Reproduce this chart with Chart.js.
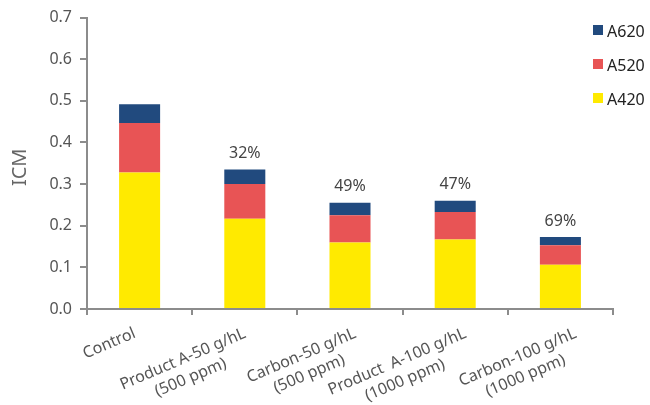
<!DOCTYPE html>
<html>
<head>
<meta charset="utf-8">
<script src="https://cdn.jsdelivr.net/npm/chart.js@4"></script>
<style>
  html, body { margin: 0; padding: 0; background: #fff; }
  #wrap { position: relative; width: 650px; height: 405px; }
  #legend { position: absolute; left: 593px; top: 20px; font-family: "Noto Sans", "Open Sans", sans-serif; font-size: 16px; color: #222; }
  #legend div { height: 34px; display: flex; align-items: flex-start; }
  #legend span.box { display: inline-block; width: 10px; height: 10px; margin-top: 5px; margin-right: 4px; }
</style>
</head>
<body>
<div id="wrap">
  <canvas id="chart" width="650" height="405"></canvas>
  <div id="legend"></div>
</div>
<script>
// Data
const categories = [
    'Control',
    ['Product A-50 g/hL', '(500 ppm)'],
    ['Carbon-50 g/hL', '(500 ppm)'],
    ['Product  A-100 g/hL', '(1000 ppm)'],
    ['Carbon-100 g/hL', '(1000 ppm)']
];
const a420 = [0.328, 0.217, 0.160, 0.167, 0.106];
const a520 = [0.119, 0.083, 0.065, 0.066, 0.047];
const a620 = [0.045, 0.035, 0.030, 0.027, 0.020];
const reduction = ['', '32%', '49%', '47%', '69%'];
const yTicks = [0, 0.1, 0.2, 0.3, 0.4, 0.5, 0.6, 0.7];
const yTitle = 'ICM';

const font = '"Noto Sans", "Open Sans", sans-serif';
const axisGray = '#8c8c8c';
Chart.defaults.font.family = font;

// percent labels above the stacks
const reductionLabels = {
    id: 'reductionLabels',
    afterDatasetsDraw(chart) {
        const ctx = chart.ctx;
        const top = chart.getDatasetMeta(chart.data.datasets.length - 1);
        ctx.save();
        ctx.font = '16px ' + font;
        ctx.fillStyle = '#444';
        ctx.textAlign = 'center';
        ctx.textBaseline = 'middle';
        top.data.forEach((bar, i) => {
            if (reduction[i]) ctx.fillText(reduction[i], bar.x, bar.y - 16);
        });
        ctx.restore();
    }
};

// rotated category labels, lines centred on each other, plus the y title
const axisText = {
    id: 'axisText',
    afterDraw(chart) {
        const ctx = chart.ctx;
        const xs = chart.scales.x;
        const angle = -23 * Math.PI / 180;
        ctx.save();
        ctx.font = '16px ' + font;
        ctx.fillStyle = '#555';
        ctx.textBaseline = 'alphabetic';
        categories.forEach((label, i) => {
            const lines = Array.isArray(label) ? label : [label];
            const w0 = ctx.measureText(lines[0]).width;
            const endX = xs.getPixelForValue(i) - 3 + 5 * i;
            const endY = xs.top + 28;
            ctx.save();
            ctx.translate(endX, endY);
            ctx.rotate(angle);
            ctx.textAlign = 'center';
            lines.forEach((line, j) => {
                ctx.fillText(line, -w0 / 2, j * 20);
            });
            ctx.restore();
        });

        const ys = chart.scales.y;
        ctx.save();
        ctx.translate(20, (ys.top + ys.bottom) / 2 + 4);
        ctx.rotate(-Math.PI / 2);
        ctx.font = '20px ' + font;
        ctx.fillStyle = '#666';
        ctx.textAlign = 'center';
        ctx.textBaseline = 'middle';
        ctx.fillText(yTitle, 0, 0);
        ctx.restore();
        ctx.restore();
    }
};

const chart = new Chart(document.getElementById('chart'), {
    type: 'bar',
    data: {
        labels: categories,
        datasets: [
            { label: 'A420', data: a420, backgroundColor: '#FFEA00' },
            { label: 'A520', data: a520, backgroundColor: '#E85455' },
            { label: 'A620', data: a620, backgroundColor: '#214A7E' }
        ]
    },
    options: {
        responsive: false,
        animation: false,
        layout: { padding: { top: 17, right: 37, left: 0, bottom: 0 } },
        datasets: {
            bar: { categoryPercentage: 1, barPercentage: 0.39, borderWidth: 0 }
        },
        plugins: {
            legend: { display: false },
            tooltip: { enabled: false }
        },
        scales: {
            x: {
                stacked: true,
                afterFit(scale) { scale.height = 96; },
                grid: { drawOnChartArea: false, tickLength: 6, color: axisGray, lineWidth: 2 },
                border: { color: axisGray, width: 2 },
                ticks: { display: false }
            },
            y: {
                stacked: true,
                min: 0,
                max: 0.7,
                afterFit(scale) { scale.width = 87; },
                afterBuildTicks(scale) { scale.ticks = yTicks.map(v => ({ value: v })); },
                grid: { drawOnChartArea: false, tickLength: 7, color: axisGray, lineWidth: 2 },
                border: { color: axisGray, width: 2 },
                ticks: {
                    color: '#555',
                    font: { size: 16 },
                    padding: 8,
                    callback: v => v.toFixed(1)
                }
            }
        }
    },
    plugins: [reductionLabels, axisText]
});

// legend, top series first
const legend = document.getElementById('legend');
chart.data.datasets.slice().reverse().forEach(ds => {
    const row = document.createElement('div');
    row.innerHTML = '<span class="box" style="background:' + ds.backgroundColor + '"></span>' + ds.label;
    legend.appendChild(row);
});
</script>
</body>
</html>
